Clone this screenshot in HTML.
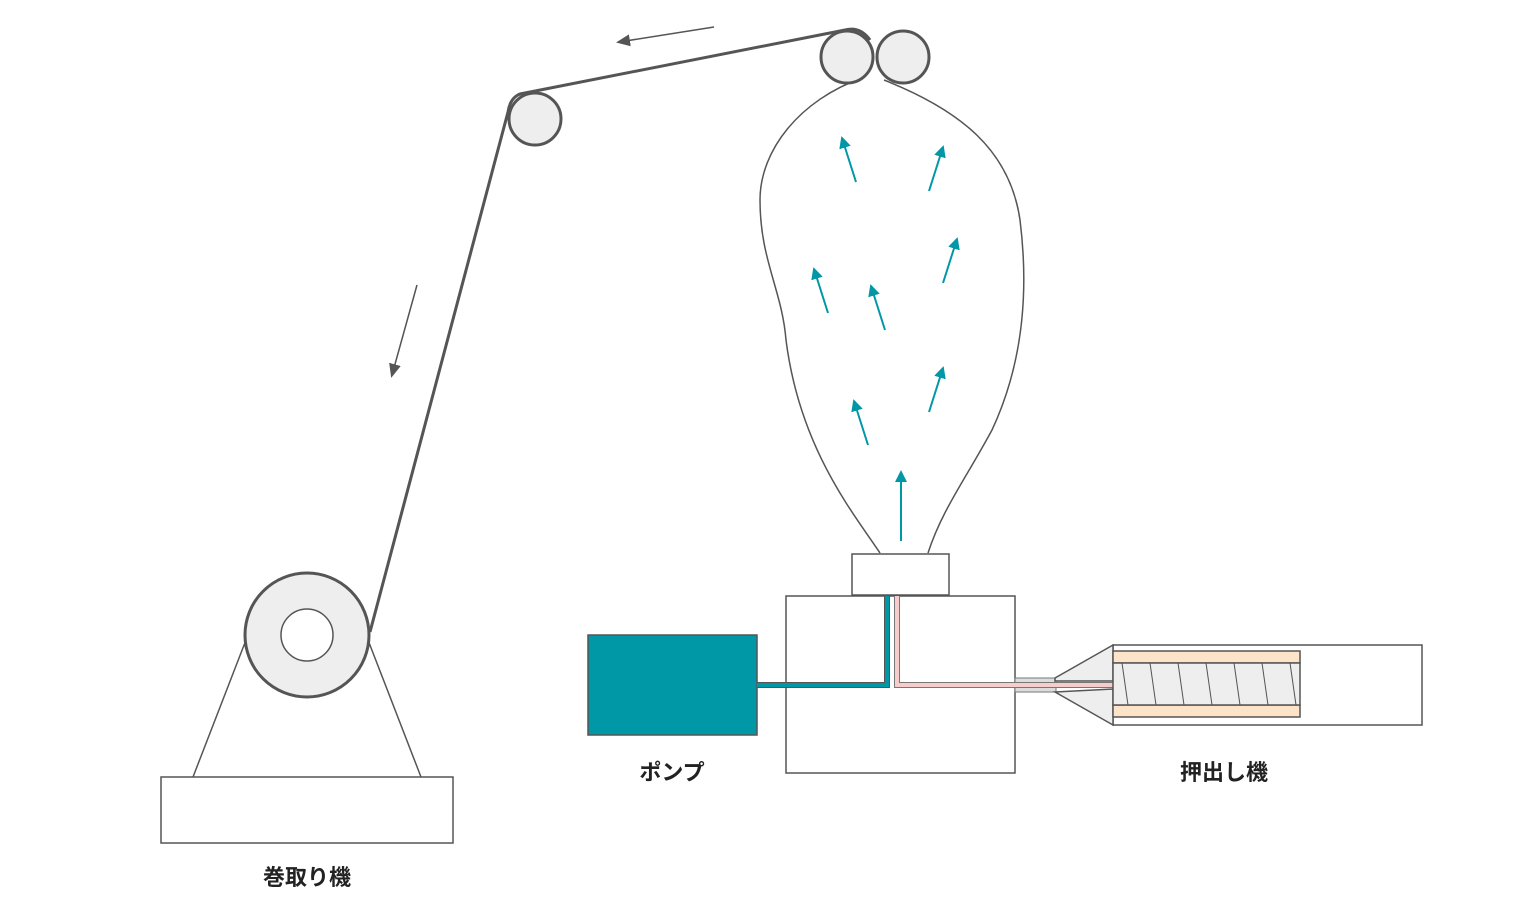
<!DOCTYPE html>
<html><head><meta charset="utf-8"><style>
html,body{margin:0;padding:0;background:#fff;}
svg{display:block;}
text{font-family:"Liberation Sans","Noto Sans CJK JP",sans-serif;font-weight:bold;font-size:22px;fill:#222;}
</style></head><body>
<svg width="1536" height="920" viewBox="0 0 1536 920" xmlns="http://www.w3.org/2000/svg">
<defs>
<marker id="ta" markerWidth="12" markerHeight="12" refX="10" refY="6" orient="auto" markerUnits="userSpaceOnUse" viewBox="0 0 12 12"><path d="M0,0 L12,6 L0,12 z" fill="#0097a7"/></marker>
<marker id="ga" markerWidth="14" markerHeight="14" refX="11" refY="7" orient="auto" markerUnits="userSpaceOnUse" viewBox="0 0 14 14"><path d="M0,1 L14,7 L0,13 z" fill="#555"/></marker>
</defs>
<g stroke="#555" fill="none" stroke-width="1.5">
<path d="M862,78 C800,100 760,150 760,200 C760,260 782,290 786,340 C800,450 855,515 880,553"/>
<path d="M884,80 C960,110 1010,150 1020,220 C1030,300 1020,370 992,430 C965,480 942,510 928,553"/>
</g>
<path d="M870,40 Q860,26 845,30 L520,94 Q510,98 508,112 L370,632" stroke="#555" stroke-width="3" fill="none"/>
<g stroke="#555" stroke-width="3" fill="#eee">
<circle cx="847" cy="57" r="26"/>
<circle cx="903" cy="57" r="26"/>
<circle cx="535" cy="119" r="26"/>
<circle cx="307" cy="635" r="62"/>
</g>
<circle cx="307" cy="635" r="26" fill="#fff" stroke="#555" stroke-width="1.5"/>
<g stroke="#555" stroke-width="1.5" fill="none">
<line x1="246" y1="640" x2="193" y2="777"/>
<line x1="368" y1="640" x2="421" y2="777"/>
<rect x="161" y="777" width="292" height="66" fill="#fff"/>
<rect x="852" y="554" width="97" height="41" fill="#fff"/>
<rect x="786" y="596" width="229" height="177" fill="#fff"/>
<rect x="1113" y="645" width="309" height="80" fill="#fff"/>
</g>
<rect x="588" y="635" width="169" height="100" fill="#0097a7" stroke="#555" stroke-width="1.5"/>
<path d="M757,685 L887,685 L887,596" stroke="#555" stroke-width="6" fill="none"/>
<path d="M757,685 L887,685 L887,596" stroke="#0097a7" stroke-width="4" fill="none"/>
<rect x="1015" y="678" width="41" height="14" fill="#ddd" stroke="#777" stroke-width="1"/>
<path d="M897,596 L897,685 L1113,685" stroke="#777" stroke-width="6" fill="none"/>
<path d="M897,596 L897,685 L1113,685" stroke="#f6cccc" stroke-width="4" fill="none"/>
<path d="M1055,678 L1113,645 L1113,681 L1055,681 Z M1055,692 L1113,689 L1113,725 Z" fill="#eee" stroke="#555" stroke-width="1.5"/>
<path d="M1056,685 L1113,685" stroke="#f6cccc" stroke-width="4"/>
<rect x="1113" y="651" width="187" height="12" fill="#fde3c8" stroke="#555" stroke-width="1.5"/>
<rect x="1113" y="705" width="187" height="12" fill="#fde3c8" stroke="#555" stroke-width="1.5"/>
<rect x="1113" y="663" width="187" height="42" fill="#eee" stroke="#555" stroke-width="1.5"/>
<g stroke="#555" stroke-width="1">
<line x1="1122" y1="663" x2="1128" y2="705"/>
<line x1="1150" y1="663" x2="1156" y2="705"/>
<line x1="1178" y1="663" x2="1184" y2="705"/>
<line x1="1206" y1="663" x2="1212" y2="705"/>
<line x1="1234" y1="663" x2="1240" y2="705"/>
<line x1="1262" y1="663" x2="1268" y2="705"/>
<line x1="1290" y1="663" x2="1296" y2="705"/>
</g>
<g stroke="#0097a7" stroke-width="2" marker-end="url(#ta)">
<line x1="856" y1="182" x2="842" y2="138"/>
<line x1="929" y1="191" x2="943" y2="147"/>
<line x1="943" y1="283" x2="957" y2="239"/>
<line x1="828" y1="313" x2="814" y2="269"/>
<line x1="885" y1="330" x2="871" y2="286"/>
<line x1="929" y1="412" x2="943" y2="368"/>
<line x1="868" y1="445" x2="854" y2="401"/>
<line x1="901" y1="541" x2="901" y2="472"/>
</g>
<g stroke="#555" stroke-width="1.5" marker-end="url(#ga)">
<line x1="714" y1="27" x2="619" y2="42"/>
<line x1="417" y1="285" x2="392" y2="375"/>
</g>
<text x="672" y="780" text-anchor="middle">ポンプ</text>
<text x="1224" y="780" text-anchor="middle">押出し機</text>
<text x="307" y="885" text-anchor="middle">巻取り機</text>
</svg>
</body></html>
